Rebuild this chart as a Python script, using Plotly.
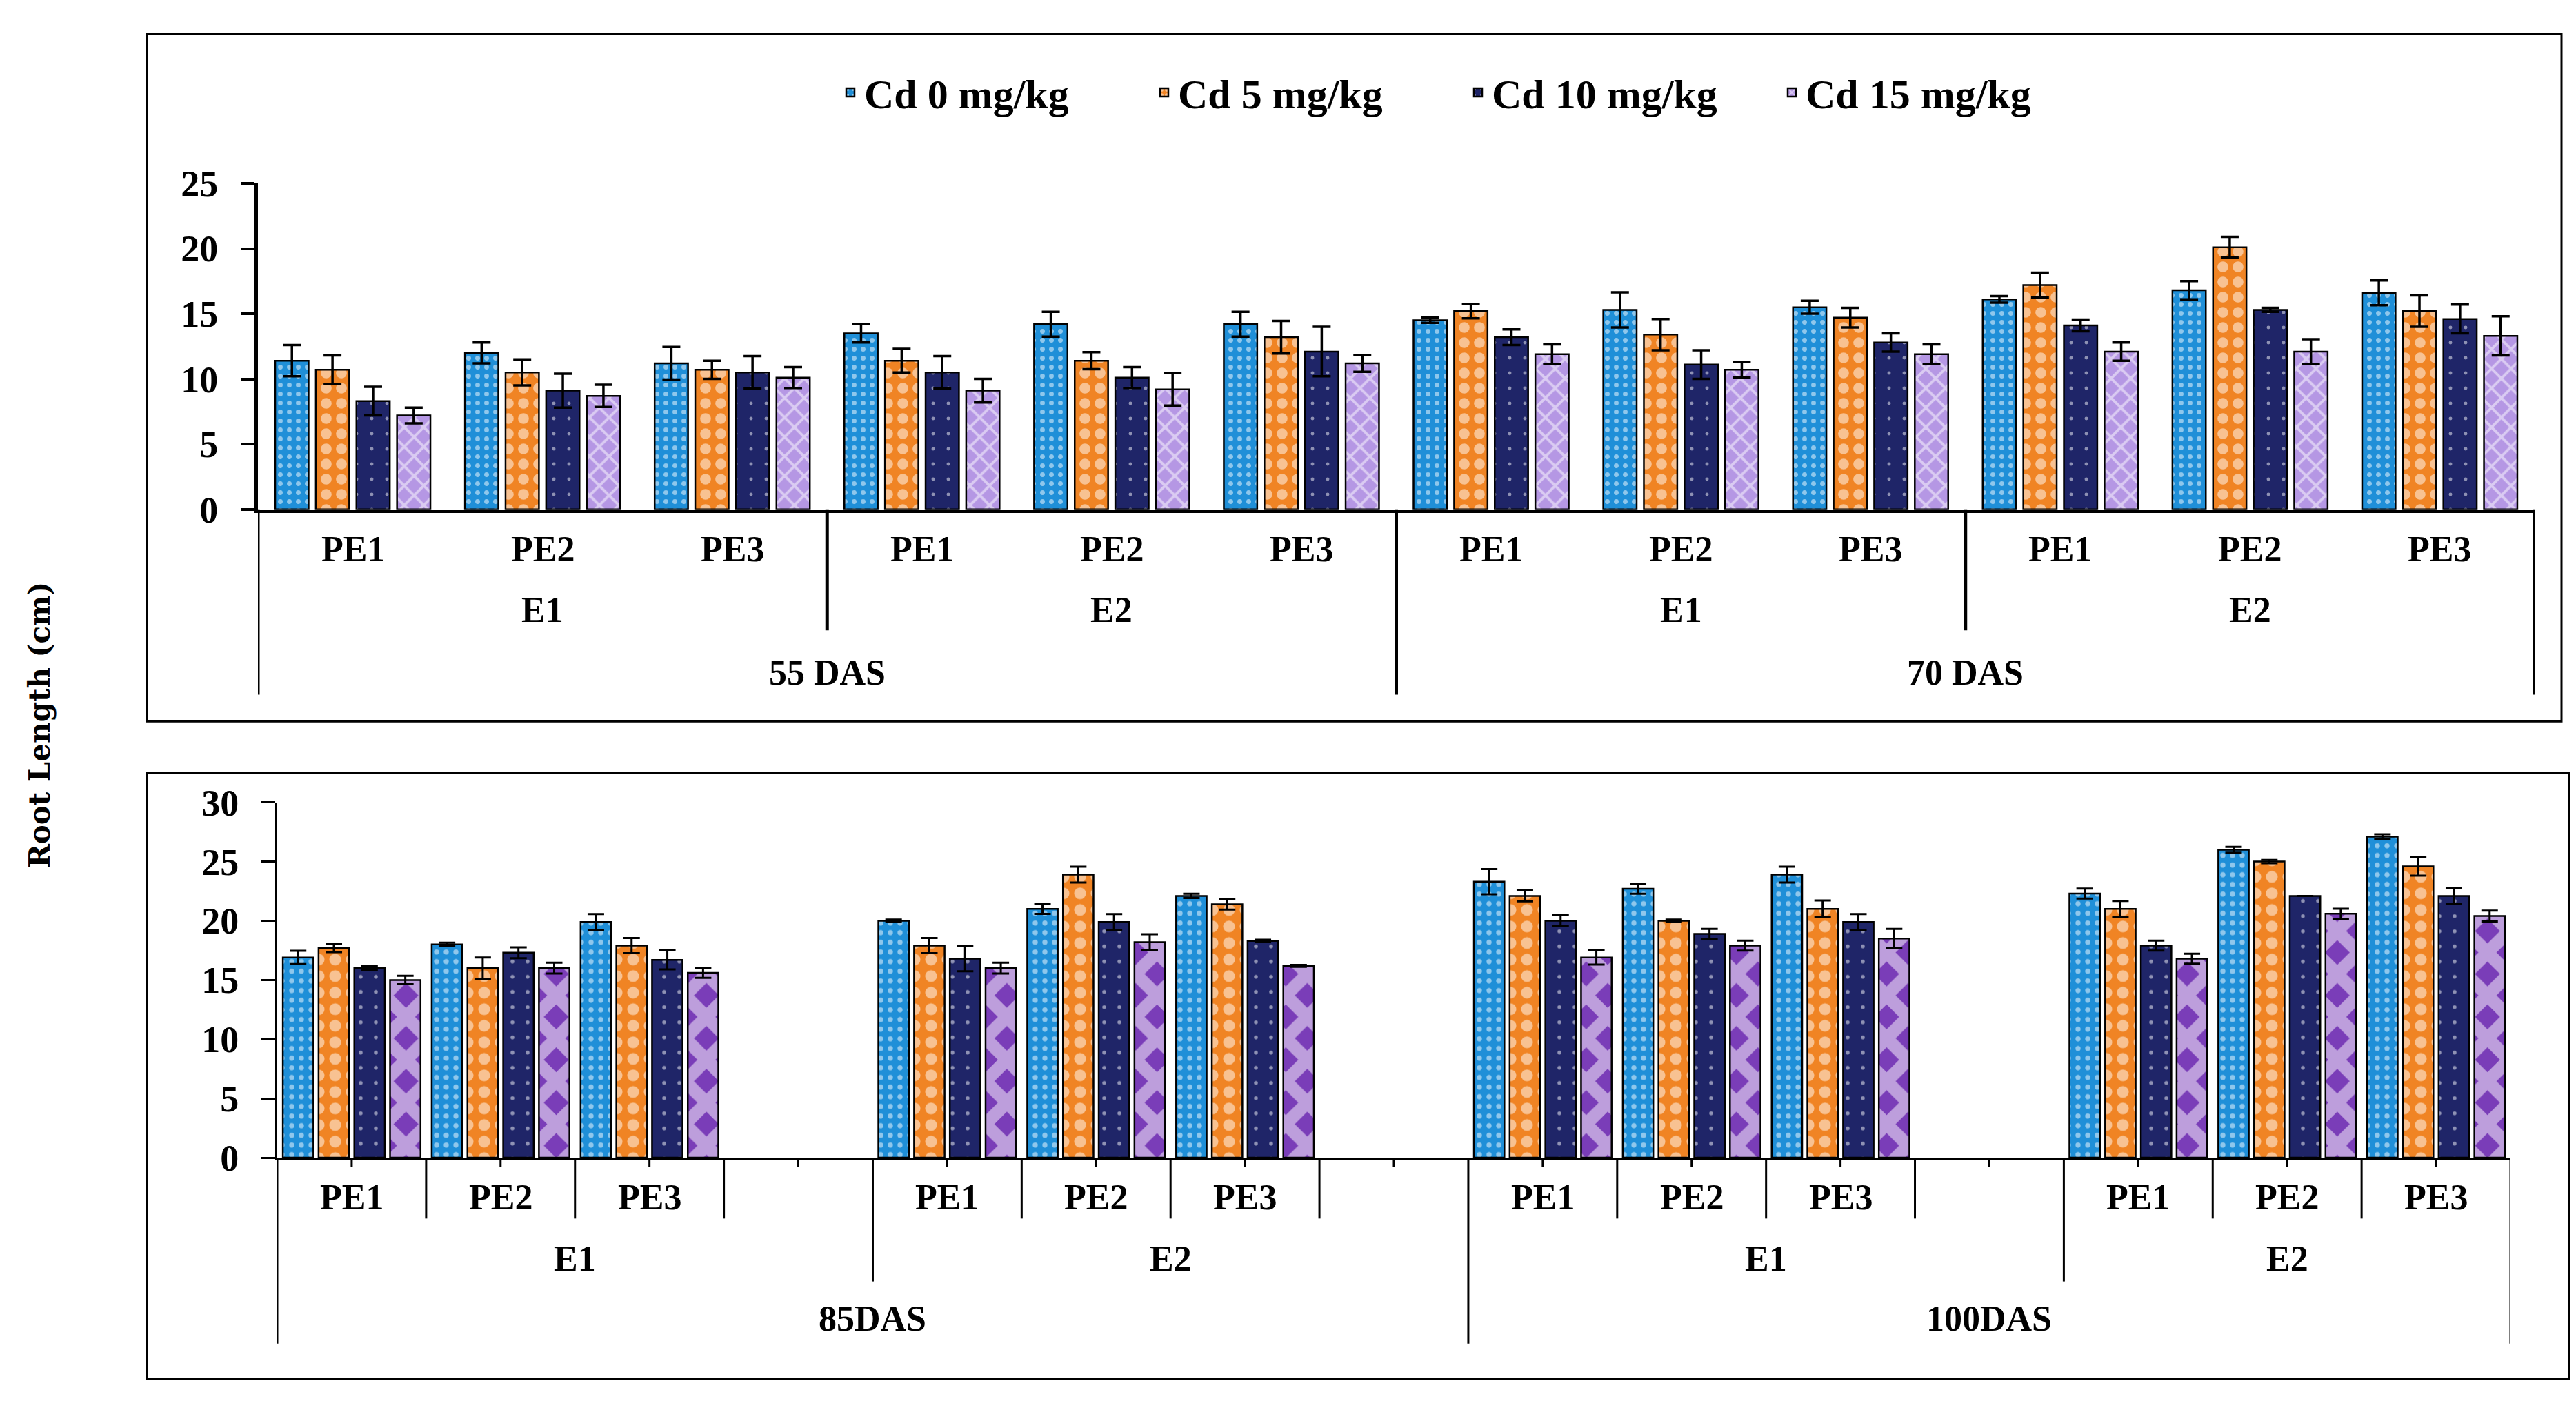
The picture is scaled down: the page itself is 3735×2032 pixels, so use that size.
import plotly.graph_objects as go

W, H = 3735, 2032

# ---------------- data ----------------
SERIES = ["Cd 0 mg/kg", "Cd 5 mg/kg", "Cd 10 mg/kg", "Cd 15 mg/kg"]

# top panel categories (55 DAS / 70 DAS)
TOP_DAS = ["55 DAS"] * 6 + ["70 DAS"] * 6
TOP_E = (["E1"] * 3 + ["E2"] * 3) * 2
TOP_PE = ["PE1", "PE2", "PE3"] * 4

top_cd0 = [11.4, 12.0, 11.2, 13.5, 14.2, 14.2, 14.5, 15.3, 15.5, 16.1, 16.8, 16.6]
top_cd0_err = [1.2, 0.8, 1.25, 0.7, 0.95, 0.95, 0.2, 1.35, 0.5, 0.25, 0.7, 0.95]
top_cd5 = [10.7, 10.5, 10.7, 11.4, 11.4, 13.2, 15.2, 13.4, 14.7, 17.2, 20.1, 15.2]
top_cd5_err = [1.1, 1.0, 0.7, 0.9, 0.65, 1.25, 0.55, 1.2, 0.75, 0.95, 0.8, 1.2]
top_cd10 = [8.3, 9.1, 10.5, 10.5, 10.1, 12.1, 13.2, 11.1, 12.8, 14.1, 15.3, 14.6]
top_cd10_err = [1.1, 1.3, 1.25, 1.25, 0.8, 1.9, 0.6, 1.1, 0.7, 0.45, 0.15, 1.1]
top_cd15 = [7.2, 8.7, 10.1, 9.1, 9.2, 11.2, 11.9, 10.7, 11.9, 12.1, 12.1, 13.3]
top_cd15_err = [0.6, 0.85, 0.8, 0.9, 1.25, 0.65, 0.75, 0.6, 0.75, 0.7, 0.95, 1.5]

# bottom panel categories (85DAS / 100DAS) - blank slots are empty strings
BOT_DAS = ["85DAS"] * 8 + ["100DAS"] * 7
BOT_E = ["E1"] * 4 + ["E2"] * 4 + ["E1"] * 4 + ["E2"] * 3
BOT_PE = ["PE1", "PE2", "PE3", ""] * 3 + ["PE1", "PE2", "PE3"]

bot_cd0 = [16.9, 18.0, 19.9, 20.0, 21.0, 22.1, 23.3, 22.7, 23.9, 22.3, 26.0, 27.1]
bot_cd0_err = [0.56, 0.15, 0.67, 0.1, 0.42, 0.18, 1.06, 0.42, 0.67, 0.42, 0.25, 0.2]
bot_cd5 = [17.7, 16.0, 17.9, 17.9, 23.9, 21.4, 22.1, 20.0, 21.0, 21.0, 25.0, 24.6]
bot_cd5_err = [0.35, 0.9, 0.64, 0.64, 0.67, 0.46, 0.46, 0.1, 0.71, 0.67, 0.14, 0.78]
bot_cd10 = [16.0, 17.3, 16.7, 16.8, 19.9, 18.3, 20.0, 18.9, 19.9, 17.9, 22.1, 22.1]
bot_cd10_err = [0.18, 0.46, 0.81, 1.06, 0.67, 0.1, 0.46, 0.42, 0.67, 0.42, 0.0, 0.64]
bot_cd15 = [15.0, 16.0, 15.6, 16.0, 18.2, 16.2, 16.9, 17.9, 18.5, 16.8, 20.6, 20.4]
bot_cd15_err = [0.35, 0.46, 0.42, 0.46, 0.67, 0.08, 0.6, 0.42, 0.81, 0.42, 0.42, 0.46]

TOP_TICKS = [0, 5, 10, 15, 20, 25]
BOT_TICKS = [0, 5, 10, 15, 20, 25, 30]

# ---------------- styles ----------------
FONT = "Liberation Serif"
BLUE = "#1f8fd8"
ORANGE = "#f08424"
NAVY = "#1f2568"
PURPLE = "#7a3db8"
LAV = "#b597e4"

top_styles = [
    dict(color=BLUE, pattern=dict(shape=".", bgcolor=BLUE, fgcolor="white", size=13, solidity=0.22, fillmode="overlay")),
    dict(color=ORANGE, pattern=dict(shape=".", bgcolor=ORANGE, fgcolor="white", size=22, solidity=0.4, fillmode="overlay")),
    dict(color=NAVY, pattern=dict(shape=".", bgcolor=NAVY, fgcolor="white", size=22, solidity=0.04, fillmode="overlay")),
    dict(color=LAV, pattern=dict(shape="x", bgcolor=LAV, fgcolor="white", size=20, solidity=0.35, fillmode="overlay")),
]
bot_styles = [
    dict(color=BLUE, pattern=dict(shape=".", bgcolor=BLUE, fgcolor="white", size=14, solidity=0.22, fillmode="overlay")),
    dict(color=ORANGE, pattern=dict(shape=".", bgcolor=ORANGE, fgcolor="white", size=24, solidity=0.4, fillmode="overlay")),
    dict(color=NAVY, pattern=dict(shape=".", bgcolor=NAVY, fgcolor="white", size=22, solidity=0.05, fillmode="overlay")),
    dict(color=PURPLE, pattern=dict(shape="x", bgcolor=PURPLE, fgcolor="white", size=44, solidity=0.66, fillmode="overlay")),
]

# pixel geometry of panels
TOP_X = (366, 3667); TOP_Y = (723, 236)       # y: zero, top
BOT_X = (394, 3632); BOT_Y = (1692, 1161)
TOP_LVL = {"PE": 783, "E": 873, "DAS": 967}
BOT_LVL = {"PE": 1751, "E": 1843, "DAS": 1933}
TOP_LINE_END = {"E": 904, "DAS": 1000}
BOT_LINE_END = {"PE": 1783, "E": 1877, "DAS": 1970}

px = lambda v: v / W
py = lambda v: 1 - v / H

fig = go.Figure()

top_vals = [(top_cd0, top_cd0_err), (top_cd5, top_cd5_err), (top_cd10, top_cd10_err), (top_cd15, top_cd15_err)]
bot_vals = [(bot_cd0, bot_cd0_err), (bot_cd5, bot_cd5_err), (bot_cd10, bot_cd10_err), (bot_cd15, bot_cd15_err)]

top_x = [i + 0.5 for i, p in enumerate(TOP_PE) if p]
bot_x = [i + 0.5 for i, p in enumerate(BOT_PE) if p]

def add_panel(xs, vals, styles, xaxis, yaxis, pitch, width, showlegend, ew, capw):
    for k, (name, (v, e), st) in enumerate(zip(SERIES, vals, styles)):
        fig.add_trace(go.Bar(
            x=xs, y=v, name=name, xaxis=xaxis, yaxis=yaxis,
            offset=(k - 1.5) * pitch - width / 2, width=width,
            marker=dict(color=st["color"], pattern=st["pattern"], line=dict(color="black", width=2.5)),
            error_y=dict(type="data", array=e, color="black", thickness=ew, width=capw),
            showlegend=showlegend, legendgroup=name,
        ))

add_panel(top_x, top_vals, top_styles, "x", "y", 0.214, 0.176, True, 3.5, 13)
add_panel(bot_x, bot_vals, bot_styles, "x2", "y2", 0.240, 0.205, False, 3, 12)

shapes = []
annotations = []

def hierarchy(das, es, pes, xref, lvl, line_end, lw, pe_lines, small_ticks, y_base):
    n = len(pes)
    for b in range(n + 1):
        if b == 0 or b == n or das[b] != das[b - 1]:
            end = line_end["DAS"]
        elif es[b] != es[b - 1]:
            end = line_end["E"]
        elif pe_lines:
            end = line_end["PE"]
        else:
            continue
        shapes.append(dict(type="line", xref=xref, yref="paper", x0=b, x1=b,
                           y0=py(y_base), y1=py(end), line=dict(color="black", width=lw)))
    if small_ticks:
        for i in range(n):
            shapes.append(dict(type="line", xref=xref, yref="paper", x0=i + 0.5, x1=i + 0.5,
                               y0=py(y_base), y1=py(y_base + 14), line=dict(color="black", width=lw)))
    lab_font = dict(family=FONT, size=52, color="black", weight="bold")
    for i, p in enumerate(pes):
        if p:
            annotations.append(dict(x=i + 0.5, y=py(lvl["PE"]), xref=xref, yref="paper", text=p,
                                    showarrow=False, font=lab_font, xanchor="center", yanchor="middle"))
    def runs(keys):
        out = []
        s = 0
        for i in range(1, n + 1):
            if i == n or keys[i] != keys[s]:
                out.append((s, i, keys[s]))
                s = i
        return out
    for s, t, key in runs(list(zip(das, es))):
        annotations.append(dict(x=(s + t) / 2, y=py(lvl["E"]), xref=xref, yref="paper", text=key[1],
                                showarrow=False, font=lab_font, xanchor="center", yanchor="middle"))
    for s, t, key in runs(das):
        annotations.append(dict(x=(s + t) / 2, y=py(lvl["DAS"]), xref=xref, yref="paper", text=key,
                                showarrow=False, font=lab_font, xanchor="center", yanchor="middle"))

hierarchy(TOP_DAS, TOP_E, TOP_PE, "x", TOP_LVL, TOP_LINE_END, 5, False, False, TOP_Y[0])
hierarchy(BOT_DAS, BOT_E, BOT_PE, "x2", BOT_LVL, BOT_LINE_END, 3, True, True, BOT_Y[0])

# panel frames
shapes.append(dict(type="rect", xref="paper", yref="paper", x0=px(205), x1=px(3706), y0=py(1040), y1=py(13),
                   line=dict(color="black", width=3)))
shapes.append(dict(type="rect", xref="paper", yref="paper", x0=px(205), x1=px(3717), y0=py(2023), y1=py(1117),
                   line=dict(color="black", width=3)))

annotations.append(dict(x=px(49), y=py(1046), xref="paper", yref="paper", text="Root Length (cm)",
                        textangle=-90, showarrow=False, xanchor="center", yanchor="middle",
                        font=dict(family="DejaVu Serif", size=42, color="black", weight="bold")))

tickfont = dict(family=FONT, size=54, color="black", weight="bold")
xcommon = dict(showticklabels=False, ticks="", showgrid=False, zeroline=False, showline=True, linecolor="black")
ycommon = dict(showgrid=False, zeroline=False, showline=True, linecolor="black", ticks="outside",
               tickcolor="black", ticklen=20, tickfont=tickfont, ticklabelstandoff=22)

fig.update_layout(
    width=W, height=H, margin=dict(l=0, r=0, t=0, b=0),
    paper_bgcolor="white", plot_bgcolor="white",
    barmode="overlay",
    xaxis=dict(domain=[px(TOP_X[0]), px(TOP_X[1])], range=[0, len(TOP_PE)], anchor="y", linewidth=5, **xcommon),
    yaxis=dict(domain=[py(TOP_Y[0]), py(TOP_Y[1])], range=[0, TOP_TICKS[-1]], tickvals=TOP_TICKS, anchor="x",
               linewidth=5, tickwidth=4, **ycommon),
    xaxis2=dict(domain=[px(BOT_X[0]), px(BOT_X[1])], range=[0, len(BOT_PE)], anchor="y2", linewidth=3, **xcommon),
    yaxis2=dict(domain=[py(BOT_Y[0]), py(BOT_Y[1])], range=[0, BOT_TICKS[-1]], tickvals=BOT_TICKS, anchor="x2",
                linewidth=3, tickwidth=3, **ycommon),
    legend=dict(orientation="h", x=px(1205), xanchor="left", y=py(100), yanchor="middle",
                font=dict(family=FONT, size=60, color="black", weight="bold"), bgcolor="rgba(0,0,0,0)",
                entrywidth=410, entrywidthmode="pixels", itemwidth=30),
    shapes=shapes, annotations=annotations,
)

fig.write_html("out.html")
